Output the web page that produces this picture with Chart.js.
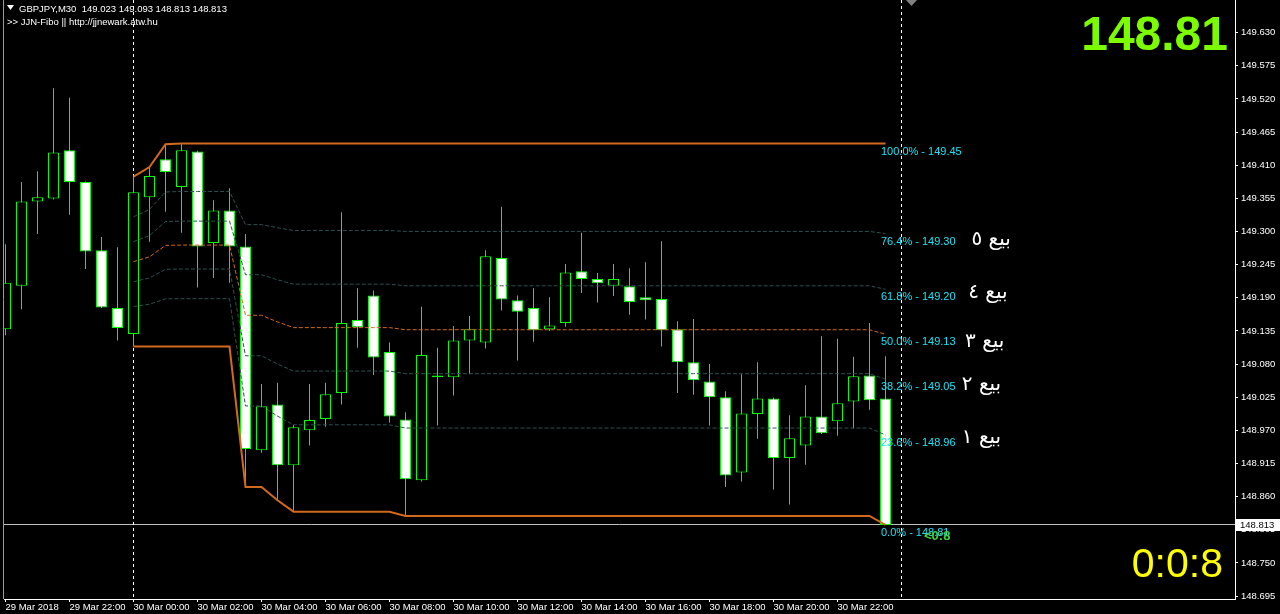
<!DOCTYPE html>
<html>
<head>
<meta charset="utf-8">
<script src="https://cdn.jsdelivr.net/npm/chart.js@4.4.0/dist/chart.umd.min.js"></script>
<style>
  html, body { margin: 0; padding: 0; background: #000; }
  #chart { display: block; }
</style>
</head>
<body>
<canvas id="chart" width="1280" height="614"></canvas>
<script>
// GBPJPY M30, first bar is 29 Mar 20:00 (bar -8), bar 0 = 30 Mar 00:00
const symbol = 'GBPJPY,M30';
const firstBar = -8;
const opens  = [149.138,149.210,149.350,149.355,149.435,149.382,149.269,149.173,
  149.130,149.357,149.420,149.374,149.433,149.281,149.335,149.275,148.937,149.013,
  148.912,148.970,148.989,149.032,149.153,149.194,149.100,148.988,148.887,149.061,
  149.058,149.119,149.116,149.256,149.186,149.173,149.138,149.148,149.234,149.221,
  149.210,149.209,149.191,149.188,149.138,149.083,149.051,149.025,148.900,148.997,
  149.023,148.924,148.945,148.993,148.985,149.018,149.061,149.023];
const highs  = [149.279,149.382,149.400,149.538,149.522,149.383,149.291,149.274,
  149.391,149.407,149.445,149.446,149.434,149.352,149.372,149.296,149.047,149.049,
  148.979,149.047,149.049,149.332,149.206,149.202,149.116,149.000,149.175,149.107,
  149.143,149.160,149.269,149.341,149.194,149.206,149.191,149.246,149.298,149.231,
  149.246,149.239,149.249,149.284,149.151,149.155,149.080,149.035,149.063,149.083,
  149.024,148.995,149.045,149.126,149.122,149.092,149.148,149.093];
const lows   = [149.128,149.171,149.296,149.353,149.328,149.238,149.173,149.119,
  149.109,149.283,149.333,149.298,149.207,149.223,149.215,148.876,148.933,148.854,
  148.835,148.945,148.976,149.013,149.107,149.062,148.983,148.828,148.885,148.978,
  149.028,149.063,149.106,149.169,149.086,149.117,149.135,149.142,149.198,149.182,
  149.193,149.162,149.154,149.109,149.032,149.029,148.978,148.876,148.885,148.956,
  148.872,148.847,148.913,148.964,148.961,148.973,149.004,148.813];
const closes = [149.215,149.350,149.357,149.431,149.382,149.267,149.174,149.140,
  149.365,149.392,149.399,149.435,149.275,149.335,149.275,148.939,149.010,148.912,
  148.975,148.987,149.030,149.148,149.141,149.091,148.993,148.889,149.095,149.058,
  149.119,149.138,149.259,149.187,149.167,149.136,149.144,149.232,149.221,149.214,
  149.221,149.183,149.186,149.136,149.083,149.053,149.025,148.895,148.998,149.023,
  148.924,148.957,148.993,148.965,149.015,149.060,149.020,148.813];

const xTickBars = [-8,-4,0,4,8,12,16,20,24,28,32,36,40,44];
const xTickLabels = ['29 Mar 2018','29 Mar 22:00','30 Mar 00:00','30 Mar 02:00','30 Mar 04:00',
  '30 Mar 06:00','30 Mar 08:00','30 Mar 10:00','30 Mar 12:00','30 Mar 14:00','30 Mar 16:00',
  '30 Mar 18:00','30 Mar 20:00','30 Mar 22:00'];
const yTicks = [149.630,149.575,149.520,149.465,149.410,149.355,149.300,149.245,149.190,
  149.135,149.080,149.025,148.970,148.915,148.860,148.805,148.750,148.695];

const dayStartBars = [0, 48];
const fibRatios = [1, 0.764, 0.618, 0.5, 0.382, 0.236, 0];
const sellTexts = ['بيع ٥','بيع ٤','بيع ٣','بيع ٢','بيع ١'];
const sellPrices = [149.284, 149.197, 149.115, 149.044, 148.956];
const sellBars = [53.6, 53.4, 53.2, 53.0, 53.0];
const countdown = '0:0:8';
const barTimer = '<0:8';

// running day high / low since 30 Mar 00:00
const dayHigh = [], dayLow = [];
let hi = -Infinity, lo = Infinity;
for (let i = 0; i < opens.length; i++) {
  const bar = firstBar + i;
  if (bar < 0) continue;
  hi = Math.max(hi, highs[i]);
  lo = Math.min(lo, lows[i]);
  dayHigh.push({x: bar, y: hi});
  dayLow.push({x: bar, y: lo});
}
function fibLine(r) {
  return dayHigh.map((p, k) => ({x: p.x, y: dayLow[k].y + r * (p.y - dayLow[k].y)}));
}

const wicks = opens.map((o, i) => ({x: firstBar + i, y: [lows[i], highs[i]]}));
const bodies = opens.map((o, i) => ({x: firstBar + i, y: [o, closes[i]]}));
const bodyColors = opens.map((o, i) => closes[i] >= o ? '#000000' : '#ffffff');

const last = opens.length - 1;
const lastBar = firstBar + last;
const FONT = '"Liberation Sans", Arial, sans-serif';

const overlay = {
  id: 'overlay',
  beforeDraw(chart) {
    const c = chart.ctx;
    c.save();
    c.fillStyle = '#000';
    c.fillRect(0, 0, chart.width, chart.height);
    c.restore();
  },
  beforeDatasetsDraw(chart) {
    const c = chart.ctx, a = chart.chartArea, xs = chart.scales.x, ys = chart.scales.y;
    c.save();
    // left frame
    c.strokeStyle = '#9a9a9a';
    c.lineWidth = 1;
    c.beginPath(); c.moveTo(3.5, 0); c.lineTo(3.5, a.bottom); c.stroke();
    // bid line
    const yb = Math.round(ys.getPixelForValue(closes[last])) - 0.5;
    c.strokeStyle = '#c0c0c0';
    c.beginPath(); c.moveTo(a.left, yb); c.lineTo(a.right, yb); c.stroke();
    // day separators
    c.strokeStyle = '#ffffff';
    c.setLineDash([3, 3]);
    dayStartBars.forEach(b => {
      const x = Math.floor(xs.getPixelForValue(b)) + 0.5;
      c.beginPath(); c.moveTo(x, a.top); c.lineTo(x, a.bottom); c.stroke();
    });
    c.restore();
  },
  afterDraw(chart) {
    const c = chart.ctx, xs = chart.scales.x, ys = chart.scales.y;
    c.save();
    // header
    c.fillStyle = '#fff';
    c.beginPath(); c.moveTo(7, 5); c.lineTo(14, 5); c.lineTo(10.5, 10); c.closePath(); c.fill();
    c.font = '9.5px ' + FONT;
    c.textBaseline = 'alphabetic';
    c.textAlign = 'left';
    c.fillText(symbol + '  ' + opens[last].toFixed(3) + ' ' + highs[last].toFixed(3) + ' ' +
      lows[last].toFixed(3) + ' ' + closes[last].toFixed(3), 19, 12);
    c.fillText('>> JJN-Fibo || http://jjnewark.atw.hu', 7, 25);

    // fib labels
    const H = dayHigh[dayHigh.length - 1].y, L = dayLow[dayLow.length - 1].y;
    const lx = xs.getPixelForValue(lastBar) - 4.5;
    c.font = '11px ' + FONT;
    c.fillStyle = '#1fe2f4';
    fibRatios.forEach(r => {
      const v = L + r * (H - L);
      c.fillText((r * 100).toFixed(1) + '% - ' + v.toFixed(2), lx, ys.getPixelForValue(v) + 11);
    });

    // bar timer
    c.font = 'bold 13px ' + FONT;
    c.fillStyle = '#3cd23c';
    c.fillText(barTimer, 924, ys.getPixelForValue(closes[last]) + 15);

    // arabic sell labels
    c.font = '20px "DejaVu Sans", sans-serif';
    c.fillStyle = '#fff';
    c.textAlign = 'center';
    c.direction = 'rtl';
    sellTexts.forEach((t, k) => {
      c.fillText(t, xs.getPixelForValue(sellBars[k]), ys.getPixelForValue(sellPrices[k]) + 4);
    });
    c.direction = 'ltr';

    // big price and countdown
    c.textAlign = 'right';
    c.font = 'bold 48px ' + FONT;
    c.fillStyle = '#7cfc00';
    c.fillText(closes[last].toFixed(2), 1228, 50);
    c.font = '41px ' + FONT;
    c.fillStyle = '#ffff00';
    c.fillText(countdown, 1223, 577);

    // price box on axis
    const yb = Math.round(ys.getPixelForValue(closes[last]));
    c.fillStyle = '#fff';
    c.fillRect(1236, yb - 6, 44, 12);
    c.fillStyle = '#000';
    c.textAlign = 'left';
    c.textBaseline = 'middle';
    c.font = '9.5px ' + FONT;
    c.fillText(closes[last].toFixed(3), 1240, yb);

    // chart shift marker
    c.fillStyle = '#808080';
    c.beginPath(); c.moveTo(906, 0); c.lineTo(917, 0); c.lineTo(911.5, 6); c.closePath(); c.fill();
    c.restore();
  }
};

const levelColors = ['#2f4f4f', '#2f4f4f', '#d2691e', '#2f4f4f', '#2f4f4f'];
const levelDatasets = [0.764, 0.618, 0.5, 0.382, 0.236].map((r, k) => ({
  type: 'line',
  data: fibLine(r),
  borderColor: levelColors[k],
  borderWidth: 1,
  borderDash: [4, 2],
  pointRadius: 0,
  tension: 0,
  order: 0
}));

new Chart(document.getElementById('chart'), {
  type: 'bar',
  data: {
    datasets: [
      { type: 'bar', data: wicks, backgroundColor: '#00ff00', borderWidth: 0, barThickness: 1,
        grouped: false, inflateAmount: 0, order: 2 },
      { type: 'bar', data: bodies, backgroundColor: bodyColors, borderColor: '#00ff00', borderWidth: 1,
        borderSkipped: false, barThickness: 11, grouped: false, inflateAmount: 0, order: 1 },
      { type: 'line', data: dayHigh, borderColor: '#d2691e', borderWidth: 2, pointRadius: 0, tension: 0, order: 0 },
      { type: 'line', data: dayLow, borderColor: '#d2691e', borderWidth: 2, pointRadius: 0, tension: 0, order: 0 },
      ...levelDatasets
    ]
  },
  options: {
    responsive: false,
    animation: false,
    devicePixelRatio: 1,
    layout: { padding: { left: 4, top: 0, right: 0, bottom: 0 }, autoPadding: false },
    plugins: { legend: { display: false }, tooltip: { enabled: false } },
    scales: {
      x: {
        type: 'linear',
        min: -8.09375,
        max: 68.84375,
        offset: false,
        grid: { display: true, drawOnChartArea: false, drawTicks: true, tickLength: 3, tickColor: '#fff', offset: false },
        border: { display: true, color: '#fff', width: 1 },
        ticks: {
          color: '#fff', font: { size: 9.5, family: FONT }, align: 'start', padding: 0,
          autoSkip: false, maxRotation: 0, minRotation: 0,
          callback: (v, i) => xTickLabels[i]
        },
        afterBuildTicks: s => { s.ticks = xTickBars.map(v => ({ value: v })); },
        afterFit: s => { s.height = 15; s.paddingLeft = 0; s.paddingRight = 0; }
      },
      y: {
        position: 'right',
        min: 148.690083,
        max: 149.684274,
        grid: { display: true, drawOnChartArea: false, drawTicks: true, tickLength: 3, tickColor: '#fff' },
        border: { display: true, color: '#fff', width: 1 },
        ticks: {
          color: '#fff', font: { size: 9.5, family: FONT }, padding: 3, autoSkip: false,
          callback: v => Number(v).toFixed(3)
        },
        afterBuildTicks: s => { s.ticks = yTicks.map(v => ({ value: v })); },
        afterFit: s => { s.width = 45; s.paddingTop = 0; s.paddingBottom = 0; }
      }
    }
  },
  plugins: [overlay]
});
</script>
</body>
</html>
